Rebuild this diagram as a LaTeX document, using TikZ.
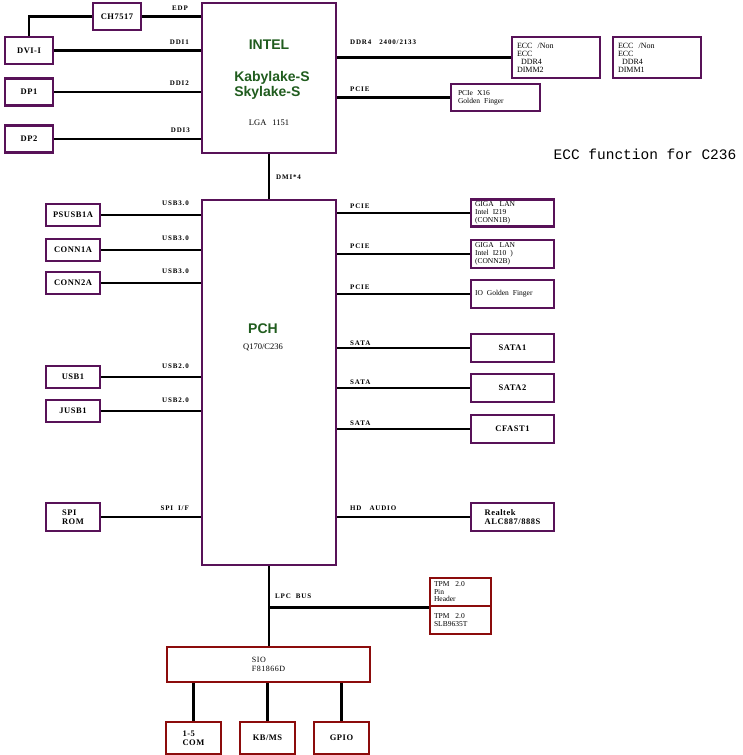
\documentclass[tikz,border=0pt]{standalone}
\usepackage{fontspec}
\setmainfont{Liberation Serif}
\setsansfont{Liberation Sans}
\setmonofont{Liberation Mono}
\newfontfamily\spacedfont[LetterSpace=6]{Liberation Serif}
\newfontfamily\widefont[LetterSpace=12]{Liberation Serif}
\usepackage{tikz}
\definecolor{chippurple}{RGB}{88,18,88}
\definecolor{chipred}{RGB}{140,12,12}
\definecolor{chipgreen}{RGB}{32,92,30}
\tikzset{
	box_base/.style = {
		draw,
		line width=2.8pt,
		inner sep=2pt,
		align=center,
		font=\spacedfont\bfseries\fontsize{8.5}{9.5}\selectfont
	},
	box_p/.style = {
		box_base,
		draw=chippurple
	},
	box_r/.style = {
		box_base,
		draw=chipred
	},
	port/.style = {
		box_p,
		minimum width=48,
		minimum height=27
	},
	usb/.style = {
		box_p,
		minimum width=54,
		minimum height=22
	},
	dev/.style = {
		box_p,
		minimum width=83,
		minimum height=28
	},
	dev_text/.style = {
		dev,
		text width=75,
		inner xsep=4pt,
		align=left,
		font=\fontsize{7.5}{8}\selectfont
	},
	chip/.style = {
		box_p,
		minimum width=134
	},
	chip_title/.style = {
		text=chipgreen,
		font=\sffamily\bfseries\fontsize{14}{15}\selectfont,
		inner sep=0pt
	},
	chip_sub/.style = {
		font=\fontsize{8.5}{9}\selectfont,
		inner sep=0pt
	},
	bus/.style = {
		black,
		line width=2.8pt
	},
	bus_l/.style = {
		font=\widefont\bfseries\fontsize{7}{7.5}\selectfont,
		inner sep=0pt
	}
}
\begin{document}
\begin{tikzpicture}[x=1pt, y=-1pt]
\useasboundingbox (0,0) rectangle (742,755);
% CPU
\node [chip, minimum height=150] (cpu) at (269,78) {};
\node [chip_title] (cpu_name) at (269,45) {INTEL};
\node [chip_title, align=left] (cpu_code) at (272,85) {Kabylake-S\\Skylake-S};
\node [chip_sub] (cpu_pkg) at (269,123) {LGA\hspace{6pt}1151};
% display outputs
\node [port] (ch) at (117,16.5) {CH7517};
\node [port] (dvi) at (29,50.5) {DVI-I};
\node [port] (dp1) at (29,92) {DP1};
\node [port] (dp2) at (29,139) {DP2};
\draw [bus] (dvi.north) |- (ch.west);
\draw [bus] (ch.east) -- (ch.east -| cpu.west);
\draw [bus] (dvi.east) -- (dvi.east -| cpu.west);
\draw [bus] (dp1.east) -- (dp1.east -| cpu.west);
\draw [bus] (dp2.east) -- (dp2.east -| cpu.west);
\node [bus_l, anchor=east] (l_edp) at (188,8) {EDP};
\node [bus_l, anchor=east] (l_ddi1) at (189,42) {DDI1};
\node [bus_l, anchor=east] (l_ddi2) at (189,83) {DDI2};
\node [bus_l, anchor=east] (l_ddi3) at (190,130) {DDI3};
% memory and PCIe x16
\node [dev_text, minimum width=88, text width=78, minimum height=41, font=\fontsize{8}{8}\selectfont] (dimm2) at (556,57.5) {ECC\hspace{5pt}/Non\\ECC\\\hspace{4pt}DDR4\\DIMM2};
\node [dev_text, minimum width=88, text width=78, minimum height=41, font=\fontsize{8}{8}\selectfont] (dimm1) at (657,57.5) {ECC\hspace{5pt}/Non\\ECC\\\hspace{4pt}DDR4\\DIMM1};
\node [dev_text, minimum width=89, text width=75, inner xsep=7pt, minimum height=27] (pcie16) at (495.5,97.5) {PCIe\hspace{4pt}X16\\Golden\hspace{4pt}Finger};
\draw [bus] (dimm2.west -| cpu.east) -- (dimm2.west);
\draw [bus] (pcie16.west -| cpu.east) -- (pcie16.west);
\node [bus_l, anchor=west] (l_ddr) at (350,42) {DDR4\hspace{8pt}2400/2133};
\node [bus_l, anchor=west] (l_pcie16) at (350,89) {PCIE};
\node [font=\ttfamily\fontsize{14.5}{15}\selectfont, inner sep=0pt] (ecc_note) at (645,154) {ECC function for C236};
% PCH
\node [chip, minimum height=365] (pch) at (269,382.5) {};
\node [chip_title] (pch_name) at (263,329) {PCH};
\node [chip_sub] (pch_sku) at (263,347) {Q170/C236};
\draw [bus] (cpu.south) -- (pch.north);
\node [bus_l, anchor=west] (l_dmi) at (276,177) {DMI*4};
% USB and SPI
\node [usb] (psusb) at (73,215) {PSUSB1A};
\node [usb] (conn1a) at (73,250) {CONN1A};
\node [usb] (conn2a) at (73,283) {CONN2A};
\node [usb] (usb1) at (73,377) {USB1};
\node [usb] (jusb1) at (73,411) {JUSB1};
\node [usb, minimum height=28, align=left] (spi) at (73,517) {SPI\\ROM};
\draw [bus] (psusb.east) -- (psusb.east -| pch.west);
\draw [bus] (conn1a.east) -- (conn1a.east -| pch.west);
\draw [bus] (conn2a.east) -- (conn2a.east -| pch.west);
\draw [bus] (usb1.east) -- (usb1.east -| pch.west);
\draw [bus] (jusb1.east) -- (jusb1.east -| pch.west);
\draw [bus] (spi.east) -- (spi.east -| pch.west);
\node [bus_l, anchor=east] (l_usb_a) at (189,203) {USB3.0};
\node [bus_l, anchor=east] (l_usb_b) at (189,238) {USB3.0};
\node [bus_l, anchor=east] (l_usb_c) at (189,271) {USB3.0};
\node [bus_l, anchor=east] (l_usb_d) at (189,366) {USB2.0};
\node [bus_l, anchor=east] (l_usb_e) at (189,400) {USB2.0};
\node [bus_l, anchor=east] (l_spi) at (189,508) {SPI\hspace{5pt}I/F};
% PCIe, SATA and audio
\node [dev_text, minimum height=27] (lan1) at (512.5,213) {GIGA\hspace{6pt}LAN\\Intel\hspace{4pt}I219\\(CONN1B)};
\node [dev_text] (lan2) at (512.5,254) {GIGA\hspace{6pt}LAN\\Intel\hspace{4pt}I210\hspace{4pt})\\(CONN2B)};
\node [dev_text] (iogf) at (512.5,294) {IO\hspace{4pt}Golden\hspace{4pt}Finger};
\node [dev] (sata1) at (512.5,348) {SATA1};
\node [dev] (sata2) at (512.5,388) {SATA2};
\node [dev] (cfast) at (512.5,429) {CFAST1};
\node [dev, align=left] (audio) at (512.5,517) {Realtek\\ALC887/888S};
\draw [bus] (lan1.west -| pch.east) -- (lan1.west);
\draw [bus] (lan2.west -| pch.east) -- (lan2.west);
\draw [bus] (iogf.west -| pch.east) -- (iogf.west);
\draw [bus] (sata1.west -| pch.east) -- (sata1.west);
\draw [bus] (sata2.west -| pch.east) -- (sata2.west);
\draw [bus] (cfast.west -| pch.east) -- (cfast.west);
\draw [bus] (audio.west -| pch.east) -- (audio.west);
\node [bus_l, anchor=west] (l_lan1) at (350,206) {PCIE};
\node [bus_l, anchor=west] (l_lan2) at (350,246) {PCIE};
\node [bus_l, anchor=west] (l_iogf) at (350,287) {PCIE};
\node [bus_l, anchor=west] (l_sata1) at (350,343) {SATA};
\node [bus_l, anchor=west] (l_sata2) at (350,382) {SATA};
\node [bus_l, anchor=west] (l_cfast) at (350,423) {SATA};
\node [bus_l, anchor=west] (l_audio) at (350,508) {HD\hspace{8pt}AUDIO};
% LPC
\node [box_r, minimum width=61, minimum height=28, text width=53, inner xsep=4pt, align=left, font=\fontsize{7.5}{7.5}\selectfont] (tpm_hdr) at (460.5,592) {TPM\hspace{6pt}2.0\\Pin\\Header};
\node [box_r, minimum width=61, minimum height=28, text width=53, inner xsep=4pt, align=left, font=\fontsize{7.5}{8}\selectfont] (tpm_slb) at (460.5,620) {TPM\hspace{6pt}2.0\\SLB9635T};
\node [box_r, minimum width=203, minimum height=35, align=left, font=\spacedfont\fontsize{8}{9}\selectfont] (sio) at (268.5,664.5) {SIO\\F81866D};
\coordinate (lpc) at (pch.south |- tpm_hdr.south);
\draw [bus] (pch.south) -- (pch.south |- sio.north);
\draw [bus] (lpc) -- (tpm_hdr.south west);
\node [bus_l, anchor=west] (l_lpc) at (275,596) {LPC\hspace{5pt}BUS};
\node [box_r, minimum width=55, minimum height=32, align=left] (com) at (193.5,738) {1-5\\COM};
\node [box_r, minimum width=55, minimum height=32] (kbms) at (267.5,738) {KB/MS};
\node [box_r, minimum width=55, minimum height=32] (gpio) at (341.5,738) {GPIO};
\draw [bus] (com.north) -- (com.north |- sio.south);
\draw [bus] (kbms.north) -- (kbms.north |- sio.south);
\draw [bus] (gpio.north) -- (gpio.north |- sio.south);
\end{tikzpicture}
\end{document}
